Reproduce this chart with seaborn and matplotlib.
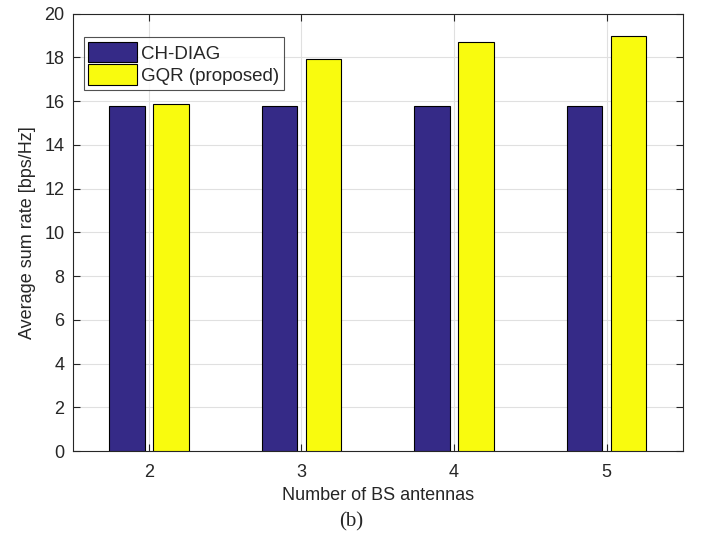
import matplotlib
matplotlib.use("Agg")
import matplotlib.pyplot as plt
import seaborn as sns
import pandas as pd

antennas = ["2", "3", "4", "5"]
ch_diag = [15.8, 15.8, 15.8, 15.8]
gqr = [15.85, 17.92, 18.72, 18.98]
series_names = ["CH-DIAG", "GQR (proposed)"]
colors = ["#352A87", "#F9FB0E"]
yticks = list(range(0, 21, 2))

df = pd.DataFrame({
    "antennas": antennas * 2,
    "rate": ch_diag + gqr,
    "method": [series_names[0]] * 4 + [series_names[1]] * 4,
})

sns.set_style("white")
plt.rcParams['font.family'] = ['Liberation Sans', 'DejaVu Sans']

fig = plt.figure(figsize=(7.02, 5.49), dpi=100)
ax = fig.add_axes([0.1036, 0.1785, 0.869, 0.7965])

sns.barplot(data=df, x="antennas", y="rate", hue="method", order=antennas,
            hue_order=series_names, palette=colors, saturation=1,
            width=0.576, gap=0.2,
            edgecolor="black", linewidth=0.8, ax=ax, zorder=3)

ax.set_xlim(-0.5, 3.5)
ax.set_ylim(0, 20)
ax.set_yticks(yticks)
ax.grid(True, color="#e0e0e0", linewidth=0.8, zorder=0)
ax.set_axisbelow(True)
for s in ax.spines.values():
    s.set_visible(True)
    s.set_color("#262626")
    s.set_linewidth(0.8)
ax.tick_params(axis="both", direction="in", length=5, width=0.8, color="#262626",
               labelsize=13, labelcolor="#262626", top=True, right=True,
               left=True, bottom=True)
ax.tick_params(axis="x", pad=9)
ax.tick_params(axis="y", pad=6)
ax.set_xlabel("Number of BS antennas", fontsize=13, color="#262626", labelpad=5)
ax.set_ylabel("Average sum rate [bps/Hz]", fontsize=13, color="#262626", labelpad=6)

leg = ax.legend(loc="upper left", bbox_to_anchor=(0.018, 0.946), fontsize=13.5,
                frameon=True, fancybox=False, edgecolor="#262626",
                handlelength=2.6, handleheight=1.3, handletextpad=0.2,
                borderpad=0.25, labelspacing=0.1, borderaxespad=0)
leg.get_frame().set_linewidth(0.8)

fig.text(0.5, 0.05, "(b)", ha="center", va="center", fontsize=15,
         family=["Liberation Serif", "DejaVu Serif"])

fig.savefig("out.png", dpi=100)
